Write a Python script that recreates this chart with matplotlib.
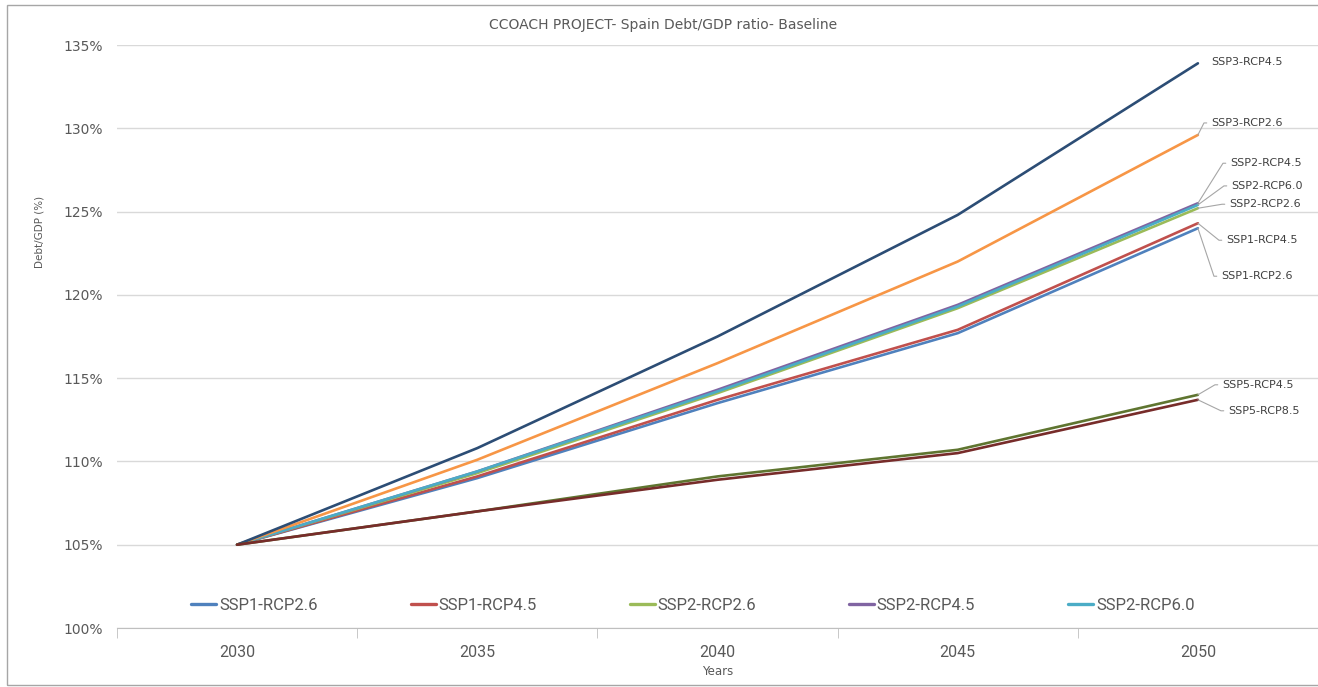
import numpy as np
import matplotlib.pyplot as plt
from matplotlib.patches import Rectangle
from matplotlib.ticker import FuncFormatter, FixedLocator

years = ["2030", "2035", "2040", "2045", "2050"]

ssp1_rcp26 = [1.050, 1.090, 1.135, 1.177, 1.240]
ssp1_rcp45 = [1.050, 1.091, 1.137, 1.179, 1.243]
ssp2_rcp26 = [1.050, 1.093, 1.141, 1.192, 1.252]
ssp2_rcp45 = [1.050, 1.094, 1.143, 1.194, 1.255]
ssp2_rcp60 = [1.050, 1.094, 1.142, 1.193, 1.254]
ssp3_rcp26 = [1.050, 1.101, 1.159, 1.220, 1.296]
ssp3_rcp45 = [1.050, 1.108, 1.175, 1.248, 1.339]
ssp5_rcp45 = [1.050, 1.070, 1.091, 1.107, 1.140]
ssp5_rcp85 = [1.050, 1.070, 1.089, 1.105, 1.137]

names = ["SSP1-RCP2.6", "SSP1-RCP4.5", "SSP2-RCP2.6", "SSP2-RCP4.5", "SSP2-RCP6.0",
         "SSP3-RCP2.6", "SSP3-RCP4.5", "SSP5-RCP4.5", "SSP5-RCP8.5"]
series = [ssp1_rcp26, ssp1_rcp45, ssp2_rcp26, ssp2_rcp45, ssp2_rcp60,
          ssp3_rcp26, ssp3_rcp45, ssp5_rcp45, ssp5_rcp85]
colors = ["#4F81BD", "#C0504D", "#9BBB59", "#8064A2", "#4BACC6",
          "#F79646", "#2C4D75", "#5F7530", "#772C2A"]

# label offsets from the 2050 point, in pixels (dx right, dy up)
label_off = [(23, -48), (28, -17), (31, 4), (32, 40), (33, 19),
             (13, 12), (13, 1), (24, 10), (30, -11)]

txt = "#595959"
narrow = ['Roboto', 'DejaVu Sans']
fig = plt.figure(figsize=(13.18, 6.87), dpi=100)
ax = fig.add_axes([117/1318, 1-628/687, 1-117/1318, (628-45)/687])

x = np.arange(len(years))
lines = []
for name, vals, c in zip(names, series, colors):
    ln, = ax.plot(x, vals, color=c, lw=1.9, label=name, solid_capstyle='round')
    lines.append(ln)

ax.set_xlim(-0.5, 4.5)
ax.set_ylim(1.00, 1.35)
ax.set_yticks(np.arange(1.00, 1.351, 0.05))
ax.yaxis.set_major_formatter(FuncFormatter(lambda v, p: f"{v*100:.0f}%"))
ax.set_xticks(x)
ax.set_xticklabels(years)
ax.xaxis.set_minor_locator(FixedLocator(np.arange(-0.5, 4.6, 1.0)))
ax.tick_params(axis='x', which='major', length=0, pad=12, labelsize=11.5, labelcolor=txt)
ax.tick_params(axis='x', which='minor', length=7, color="#BFBFBF", direction='out')
ax.tick_params(axis='y', length=0, pad=10, labelsize=10, labelcolor=txt)
for lab in ax.get_xticklabels():
    lab.set_family(narrow)

ax.grid(axis='y', color="#D9D9D9", lw=1)
ax.set_axisbelow(True)
for s in ['left', 'right', 'top']:
    ax.spines[s].set_visible(False)
ax.spines['bottom'].set_color("#BFBFBF")

ax.set_xlabel("Years", fontsize=8.5, color=txt, labelpad=4)
fig.text(40/1318, 1-232/687, "Debt/GDP (%)", rotation=90, fontsize=7.5, color=txt,
         ha='center', va='center')
fig.text(663/1318, 1-25/687, "CCOACH PROJECT- Spain Debt/GDP ratio- Baseline",
         fontsize=10, color=txt, ha='center', va='center')

for name, vals, (dx, dy) in zip(names, series, label_off):
    dxp, dyp = dx*0.72, dy*0.72
    props = None
    if dx > 15 or abs(dy) > 5:
        ang = np.degrees(np.arctan2(dyp, dxp - 5))
        props = dict(arrowstyle='-', color="#A6A6A6", lw=0.8, shrinkA=1, shrinkB=0,
                     relpos=(0, 0.5),
                     connectionstyle=f"angle,angleA=0,angleB={ang:.1f},rad=0")
    ax.annotate(name, xy=(x[-1], vals[-1]), xytext=(dxp, dyp), textcoords='offset points',
                ha='left', va='center', fontsize=8, color="#404040", arrowprops=props)

leg = ax.legend(handles=lines[:5], loc='center', bbox_to_anchor=(693/1318, 1-605/687),
                bbox_transform=fig.transFigure, ncol=5, frameon=False,
                handlelength=1.5, handletextpad=0.15, columnspacing=5.6,
                prop={'family': narrow, 'size': 12})
for t in leg.get_texts():
    t.set_color(txt)
for h in leg.legend_handles:
    h.set_linewidth(2.4)

fig.patches.append(Rectangle((7/1318, 2/687), 1.2, 1-7/687, transform=fig.transFigure,
                             fill=False, edgecolor="#A6A6A6", lw=1))

fig.savefig("out.png", dpi=100)
